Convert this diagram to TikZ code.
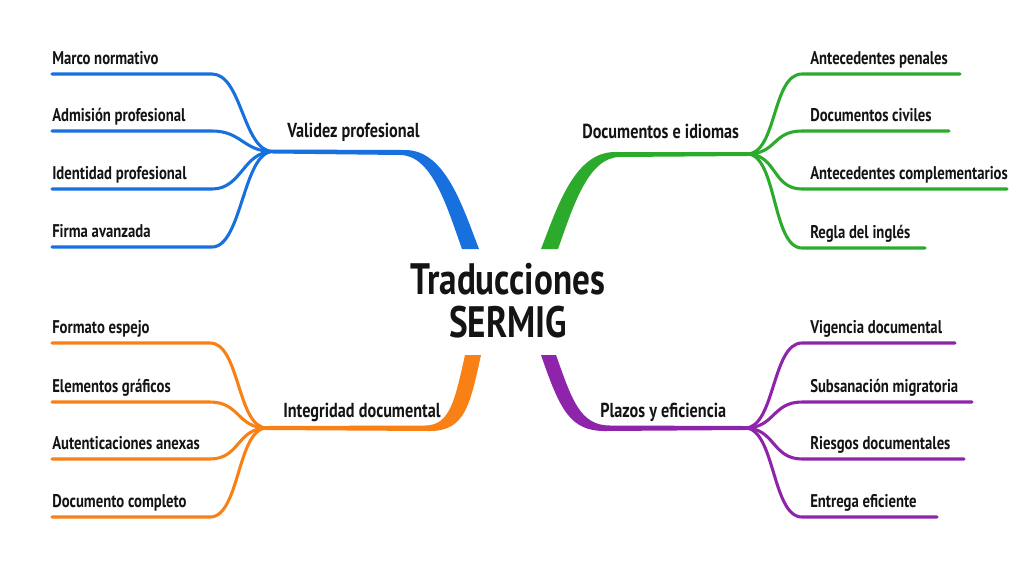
\documentclass[tikz,border=0pt]{standalone}
\usepackage{fontspec}
\setmainfont{PT Sans}[FakeStretch=0.80]
\newfontfamily\titlefont{PT Sans}[FakeStretch=0.80]
\usetikzlibrary{calc}
\definecolor{cblue}{RGB}{24,112,222}
\definecolor{cgreen}{RGB}{44,170,44}
\definecolor{corange}{RGB}{248,128,20}
\definecolor{cpurple}{RGB}{142,36,170}
\definecolor{ink}{RGB}{20,20,20}
\begin{document}
\begin{tikzpicture}[x=0.75pt,y=-0.75pt,
  leaf/.style={line width=2.3pt, line cap=round},
  leaflabel/.style={anchor=base west, inner sep=0pt, text=ink, font=\bfseries\fontsize{13.8}{15}\selectfont},
  branchlabel/.style={anchor=base west, inner sep=0pt, text=ink, font=\bfseries\fontsize{15.2}{17}\selectfont},
  titlelabel/.style={align=center, inner sep=0pt, text=ink, font=\titlefont\bfseries\fontsize{33}{32.3}\selectfont},
]
\useasboundingbox[fill=white] (0,0) rectangle (1024,576);

% hubs
\coordinate (hB) at (273,151.5);
\coordinate (hG) at (747,154);
\coordinate (hO) at (267,428);
\coordinate (hP) at (745,428);

% centre
\node[titlelabel] (title) at (508,301) {Traducciones\\SERMIG};

% trunks
\fill[cblue] (462,249) -- (479,249) .. controls (462,205) and (445,150) .. (405,150)
  -- ($(hB)+(0,-2)$) -- ($(hB)+(0,2)$) -- (400,155) .. controls (432,155) and (447,207) .. (462,249) -- cycle;
\fill[cgreen] (558,249) -- (541,249) .. controls (558,205) and (575,152) .. (615,152)
  -- ($(hG)+(0,-2)$) -- ($(hG)+(0,2)$) -- (620,157) .. controls (588,157) and (573,207) .. (558,249) -- cycle;
\fill[corange] (465,355) -- (481,355) .. controls (470,405) and (465,431) .. (430,431)
  -- ($(hO)+(0,2)$) -- ($(hO)+(0,-2)$) -- (425,425.5) .. controls (450,425.5) and (455,400) .. (465,355) -- cycle;
\fill[cpurple] (556,355) -- (541,355) .. controls (560,410) and (570,431) .. (605,431)
  -- ($(hP)+(0,2)$) -- ($(hP)+(0,-2)$) -- (610,425.5) .. controls (580,425.5) and (572,400) .. (556,355) -- cycle;

% branch labels
\node[branchlabel] (bB) at (287,137) {Validez profesional};
\node[branchlabel] (bG) at (582,138) {Documentos e idiomas};
\node[branchlabel] (bO) at (283,417) {Integridad documental};
\node[branchlabel] (bP) at (600,417) {Plazos y eficiencia};

% left leaves
\foreach \y/\t [count=\i] in {74/Marco normativo,131/Admisión profesional,189/Identidad profesional,247/Firma avanzada}{
  \coordinate (sB\i) at (212,\y);
  \coordinate (eB\i) at (52,\y);
  \node[leaflabel] (lB\i) at (52,\y-10) {\t};
  \draw[leaf,cblue] (hB) .. controls +(-30,0) and +(30,0) .. (sB\i) -- (eB\i);
}
\foreach \y/\t [count=\i] in {343/Formato espejo,402/Elementos gráficos,459/Autenticaciones anexas,517/Documento completo}{
  \coordinate (sO\i) at (210,\y);
  \coordinate (eO\i) at (52,\y);
  \node[leaflabel] (lO\i) at (52,\y-10) {\t};
  \draw[leaf,corange] (hO) .. controls +(-30,0) and +(30,0) .. (sO\i) -- (eO\i);
}
% right leaves
\foreach \y/\e/\t [count=\i] in {74/960/Antecedentes penales,131/949/Documentos civiles,189/1007/Antecedentes complementarios,248/925/Regla del inglés}{
  \coordinate (sG\i) at (802,\y);
  \coordinate (eG\i) at (\e,\y);
  \node[leaflabel] (lG\i) at (810,\y-10) {\t};
  \draw[leaf,cgreen] (hG) .. controls +(30,0) and +(-30,0) .. (sG\i) -- (eG\i);
}
\foreach \y/\e/\t [count=\i] in {343/955/Vigencia documental,402/972/Subsanación migratoria,459/964/Riesgos documentales,517/937/Entrega eficiente}{
  \coordinate (sP\i) at (802,\y);
  \coordinate (eP\i) at (\e,\y);
  \node[leaflabel] (lP\i) at (810,\y-10) {\t};
  \draw[leaf,cpurple] (hP) .. controls +(30,0) and +(-30,0) .. (sP\i) -- (eP\i);
}
\end{tikzpicture}
\end{document}
